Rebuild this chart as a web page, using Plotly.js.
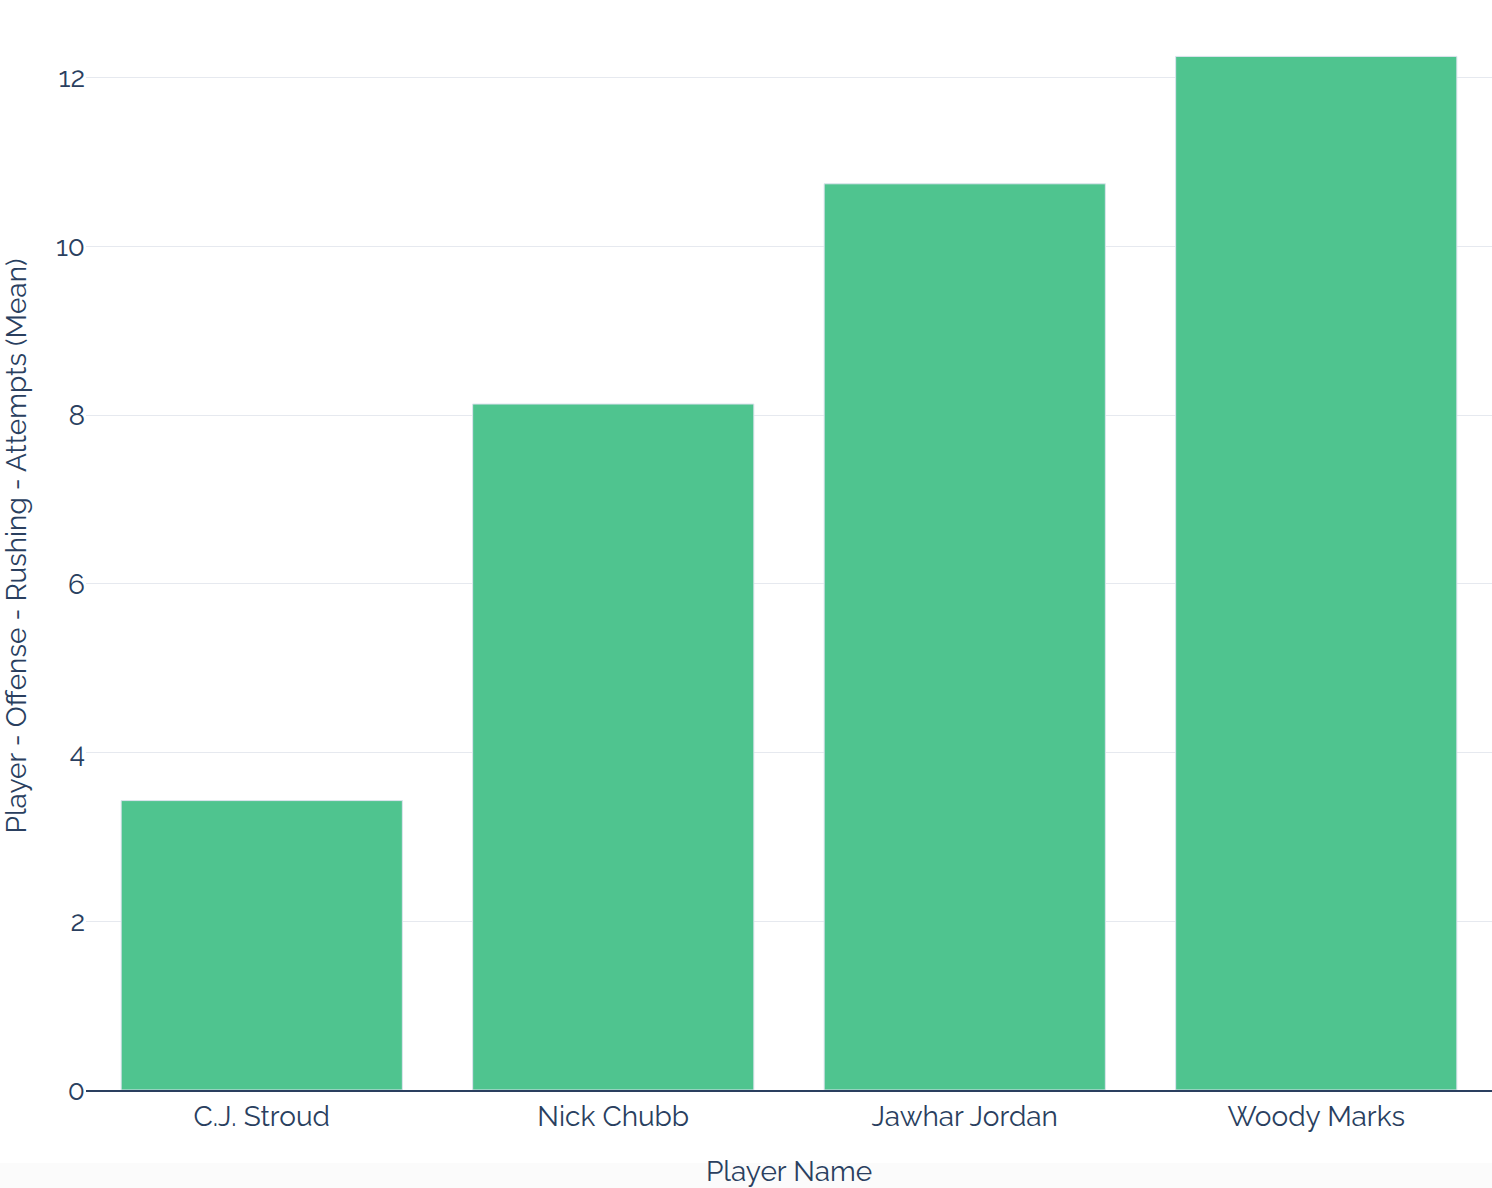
<!DOCTYPE html>
<html>
<head>
<meta charset="utf-8">
<script src="https://cdn.plot.ly/plotly-3.0.1.min.js"></script>
<style>
html,body{margin:0;padding:0;background:#ffffff;}
#chart{width:1492px;height:1188px;}
</style>
</head>
<body>
<div id="chart"></div>
<script>
const players = ["C.J. Stroud", "Nick Chubb", "Jawhar Jordan", "Woody Marks"];
const rushingAttemptsMean = [3.43, 8.13, 10.74, 12.25];
const xTitle = "Player Name";
const yTitle = "Player - Offense - Rushing - Attempts (Mean)";

const fontFamily = "Raleway, 'Open Sans', Lato, sans-serif";
const ink = "#2a3f5f";

const trace = {
  type: "bar",
  x: players,
  y: rushingAttemptsMean,
  marker: {color: "#4fc48f", line: {color: "#dde3ee", width: 1}},
  hoverinfo: "x+y"
};

const layout = {
  width: 1492,
  height: 1188,
  margin: {l: 86, r: 0, t: 2, b: 98, pad: 0},
  paper_bgcolor: "#ffffff",
  plot_bgcolor: "#ffffff",
  font: {family: fontFamily, color: ink, size: 28},
  bargap: 0.2,
  showlegend: false,
  xaxis: {
    title: {text: xTitle, font: {size: 28, color: ink}},
    tickfont: {size: 28, color: ink},
    showline: true,
    linecolor: ink,
    linewidth: 2,
    showgrid: false,
    ticks: "",
    automargin: false
  },
  yaxis: {
    title: {text: yTitle, font: {size: 28, color: ink}},
    tickfont: {size: 28, color: ink},
    showgrid: true,
    gridcolor: "#e6e9ef",
    gridwidth: 1,
    zeroline: false,
    ticks: "",
    dtick: 2,
    automargin: false
  },
  shapes: [{
    type: "rect", xref: "paper", yref: "paper",
    x0: -0.1, x1: 1.1, y0: -0.1, y1: -0.067,
    fillcolor: "#fbfbfb", line: {width: 0}, layer: "below"
  }]
};

Plotly.newPlot("chart", [trace], layout, {displayModeBar: false});
</script>
</body>
</html>
